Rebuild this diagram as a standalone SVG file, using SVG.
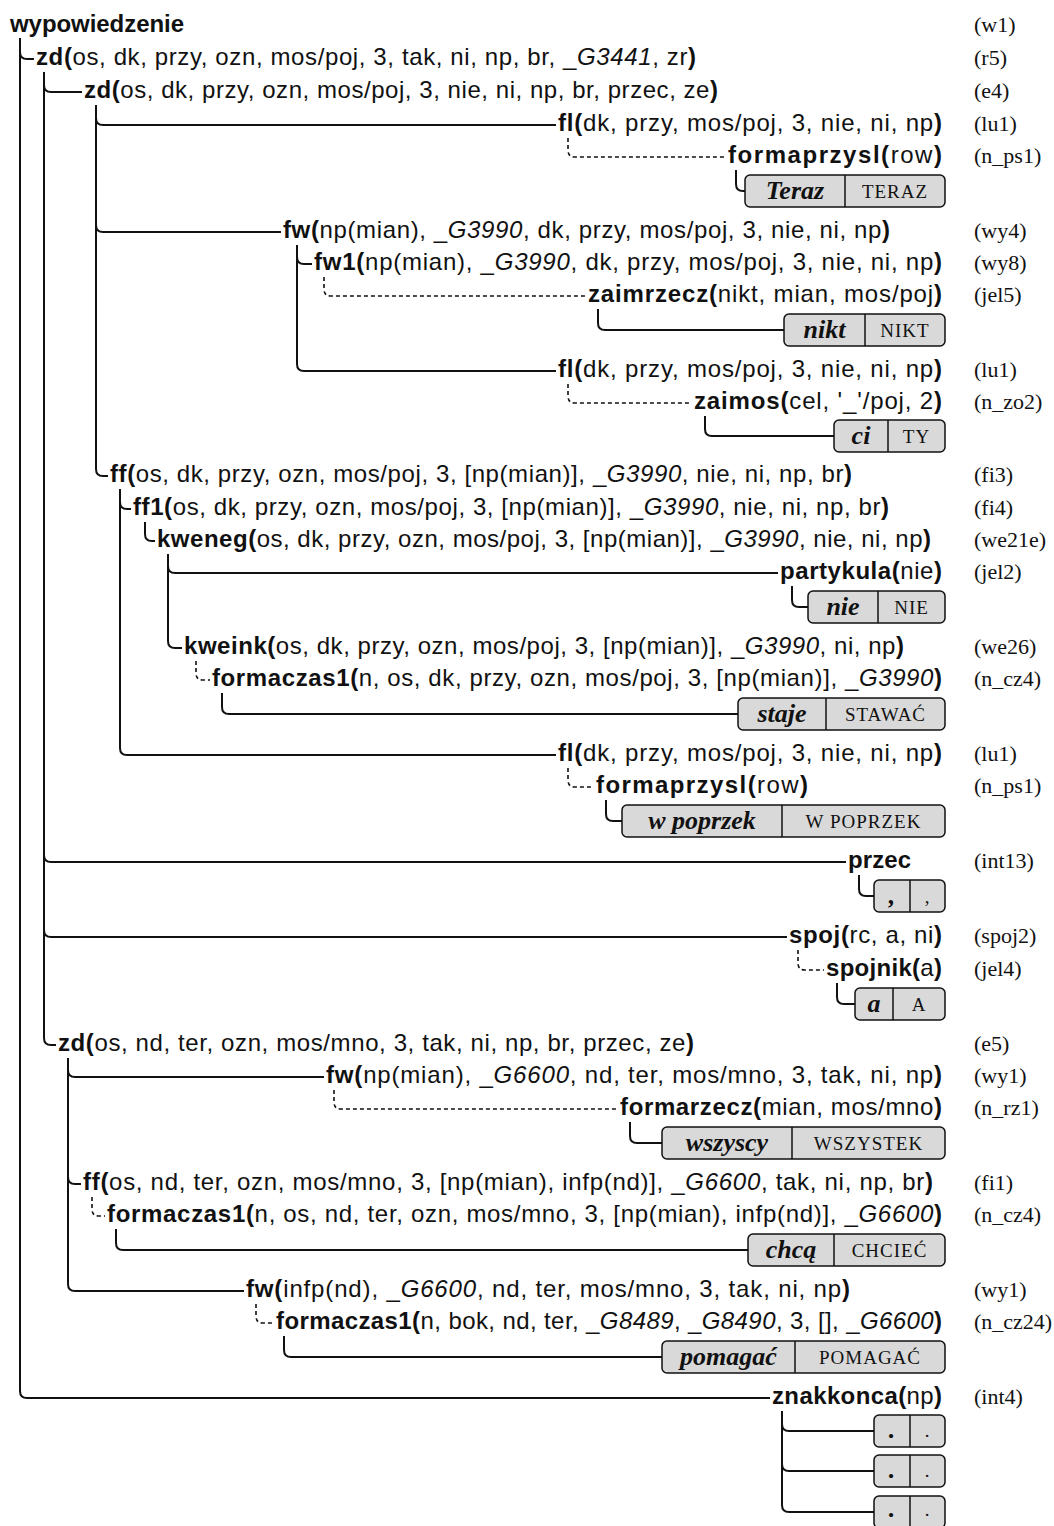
<svg xmlns="http://www.w3.org/2000/svg" width="1054" height="1526" viewBox="0 0 1054 1526">
<style>
.lb{font-family:"Liberation Sans",Arial,sans-serif;font-size:24px;fill:#111}
.b{font-weight:bold}
.i{font-style:italic}
.tg{font-family:"Liberation Serif","Times New Roman",serif;font-size:22px;fill:#111}
.bw{font-family:"Liberation Serif","Times New Roman",serif;font-weight:bold;font-style:italic;font-size:26px;text-anchor:middle;fill:#111}
.sc{font-family:"Liberation Serif","Times New Roman",serif;font-size:19px;letter-spacing:1px;text-anchor:middle;fill:#111}
.ln{fill:none;stroke:#111;stroke-width:2}
.ds{fill:none;stroke:#111;stroke-width:1.6;stroke-dasharray:4 3}
.bx{fill:#d9d9d9;stroke:#111;stroke-width:1.5}
.dv{stroke:#111;stroke-width:1.5}
</style>
<rect width="1054" height="1526" fill="#fff"/>
<g id="connectors">
<path class="ln" d="M20 38 V1391 Q20 1398 27 1398 H770"/>
<path class="ln" d="M20 52 Q20 59 27 59 H34"/>
<path class="ln" d="M44 72 V1038 Q44 1045 51 1045 H56"/>
<path class="ln" d="M44 85 Q44 92 51 92 H82"/>
<path class="ln" d="M44 855 Q44 862 51 862 H846"/>
<path class="ln" d="M44 930 Q44 937 51 937 H787"/>
<path class="ln" d="M96 105 V469 Q96 476 103 476 H108"/>
<path class="ln" d="M96 118 Q96 125 103 125 H556"/>
<path class="ln" d="M96 225 Q96 232 103 232 H281"/>
<path class="ds" d="M568 138 V150 Q568 157 575 157 H726"/>
<path class="ln" d="M736 170 V184 Q736 191 743 191 H745"/>
<path class="ln" d="M297 245 V364 Q297 371 304 371 H556"/>
<path class="ln" d="M297 257 Q297 264 304 264 H312"/>
<path class="ds" d="M324 277 V289 Q324 296 331 296 H586"/>
<path class="ln" d="M598 309 V323 Q598 330 605 330 H784"/>
<path class="ds" d="M568 384 V396 Q568 403 575 403 H692"/>
<path class="ln" d="M705 416 V429 Q705 436 712 436 H834"/>
<path class="ln" d="M120 489 V748 Q120 755 127 755 H556"/>
<path class="ln" d="M120 502 Q120 509 127 509 H131"/>
<path class="ln" d="M145 522 V534 Q145 541 152 541 H155"/>
<path class="ln" d="M168 554 V641 Q168 648 175 648 H182"/>
<path class="ln" d="M168 566 Q168 573 175 573 H778"/>
<path class="ln" d="M792 586 V600 Q792 607 799 607 H808"/>
<path class="ds" d="M196 661 V673 Q196 680 203 680 H210"/>
<path class="ln" d="M222 693 V707 Q222 714 229 714 H738"/>
<path class="ds" d="M568 768 V780 Q568 787 575 787 H594"/>
<path class="ln" d="M606 800 V814 Q606 821 613 821 H622"/>
<path class="ln" d="M859 875 V889 Q859 896 866 896 H874"/>
<path class="ds" d="M798 950 V963 Q798 970 805 970 H824"/>
<path class="ln" d="M837 983 V997 Q837 1004 844 1004 H855"/>
<path class="ln" d="M68 1058 V1284 Q68 1291 75 1291 H244"/>
<path class="ln" d="M68 1070 Q68 1077 75 1077 H324"/>
<path class="ln" d="M68 1177 Q68 1184 75 1184 H81"/>
<path class="ds" d="M334 1090 V1102 Q334 1109 341 1109 H618"/>
<path class="ln" d="M630 1122 V1136 Q630 1143 637 1143 H662"/>
<path class="ds" d="M92 1197 V1209 Q92 1216 99 1216 H105"/>
<path class="ln" d="M116 1229 V1243 Q116 1250 123 1250 H748"/>
<path class="ds" d="M256 1304 V1316 Q256 1323 263 1323 H274"/>
<path class="ln" d="M284 1336 V1350 Q284 1357 291 1357 H662"/>
<path class="ln" d="M782 1411 V1505 Q782 1512 789 1512 H874"/>
<path class="ln" d="M782 1424 Q782 1431 789 1431 H874"/>
<path class="ln" d="M782 1464 Q782 1471 789 1471 H874"/>
</g>
<g id="n_w1"><text class="lb b" x="10" y="32" textLength="174">wypowiedzenie</text><text class="tg" x="974" y="32">(w1)</text></g>
<g id="n_r5"><text class="lb" x="36" y="65" textLength="660"><tspan class="b">zd(</tspan>os, dk, przy, ozn, mos/poj, 3, tak, ni, np, br, _<tspan class="i">G3441</tspan>, zr<tspan class="b">)</tspan></text><text class="tg" x="974" y="65">(r5)</text></g>
<g id="n_e4"><text class="lb" x="84" y="98" textLength="634"><tspan class="b">zd(</tspan>os, dk, przy, ozn, mos/poj, 3, nie, ni, np, br, przec, ze<tspan class="b">)</tspan></text><text class="tg" x="974" y="98">(e4)</text></g>
<g id="n_lu1a"><text class="lb" x="558" y="131" textLength="384"><tspan class="b">fl(</tspan>dk, przy, mos/poj, 3, nie, ni, np<tspan class="b">)</tspan></text><text class="tg" x="974" y="131">(lu1)</text></g>
<g id="n_ps1a"><text class="lb" x="728" y="163" textLength="214"><tspan class="b">formaprzysl(</tspan>row<tspan class="b">)</tspan></text><text class="tg" x="974" y="163">(n_ps1)</text></g>
<g id="t_teraz"><rect class="bx" x="745" y="175" width="200" height="32" rx="5"/><line class="dv" x1="845" y1="175" x2="845" y2="207"/><text class="bw" x="795" y="199">Teraz</text><text class="sc" x="895" y="198">TERAZ</text></g>
<g id="n_wy4"><text class="lb" x="283" y="238" textLength="607"><tspan class="b">fw(</tspan>np(mian), _<tspan class="i">G3990</tspan>, dk, przy, mos/poj, 3, nie, ni, np<tspan class="b">)</tspan></text><text class="tg" x="974" y="238">(wy4)</text></g>
<g id="n_wy8"><text class="lb" x="314" y="270" textLength="628"><tspan class="b">fw1(</tspan>np(mian), _<tspan class="i">G3990</tspan>, dk, przy, mos/poj, 3, nie, ni, np<tspan class="b">)</tspan></text><text class="tg" x="974" y="270">(wy8)</text></g>
<g id="n_jel5"><text class="lb" x="588" y="302" textLength="354"><tspan class="b">zaimrzecz(</tspan>nikt, mian, mos/poj<tspan class="b">)</tspan></text><text class="tg" x="974" y="302">(jel5)</text></g>
<g id="t_nikt"><rect class="bx" x="784" y="314" width="161" height="32" rx="5"/><line class="dv" x1="865" y1="314" x2="865" y2="346"/><text class="bw" x="824.5" y="338">nikt</text><text class="sc" x="905" y="337">NIKT</text></g>
<g id="n_lu1b"><text class="lb" x="558" y="377" textLength="384"><tspan class="b">fl(</tspan>dk, przy, mos/poj, 3, nie, ni, np<tspan class="b">)</tspan></text><text class="tg" x="974" y="377">(lu1)</text></g>
<g id="n_zo2"><text class="lb" x="694" y="409" textLength="248"><tspan class="b">zaimos(</tspan>cel, '_'/poj, 2<tspan class="b">)</tspan></text><text class="tg" x="974" y="409">(n_zo2)</text></g>
<g id="t_ci"><rect class="bx" x="834" y="420" width="111" height="32" rx="5"/><line class="dv" x1="888" y1="420" x2="888" y2="452"/><text class="bw" x="861" y="444">ci</text><text class="sc" x="916.5" y="443">TY</text></g>
<g id="n_fi3"><text class="lb" x="110" y="482" textLength="742"><tspan class="b">ff(</tspan>os, dk, przy, ozn, mos/poj, 3, [np(mian)], _<tspan class="i">G3990</tspan>, nie, ni, np, br<tspan class="b">)</tspan></text><text class="tg" x="974" y="482">(fi3)</text></g>
<g id="n_fi4"><text class="lb" x="133" y="515" textLength="756"><tspan class="b">ff1(</tspan>os, dk, przy, ozn, mos/poj, 3, [np(mian)], _<tspan class="i">G3990</tspan>, nie, ni, np, br<tspan class="b">)</tspan></text><text class="tg" x="974" y="515">(fi4)</text></g>
<g id="n_we21e"><text class="lb" x="157" y="547" textLength="774"><tspan class="b">kweneg(</tspan>os, dk, przy, ozn, mos/poj, 3, [np(mian)], _<tspan class="i">G3990</tspan>, nie, ni, np<tspan class="b">)</tspan></text><text class="tg" x="974" y="547">(we21e)</text></g>
<g id="n_jel2"><text class="lb" x="780" y="579" textLength="162"><tspan class="b">partykula(</tspan>nie<tspan class="b">)</tspan></text><text class="tg" x="974" y="579">(jel2)</text></g>
<g id="t_nie"><rect class="bx" x="808" y="591" width="137" height="32" rx="5"/><line class="dv" x1="878" y1="591" x2="878" y2="623"/><text class="bw" x="843" y="615">nie</text><text class="sc" x="911.5" y="614">NIE</text></g>
<g id="n_we26"><text class="lb" x="184" y="654" textLength="720"><tspan class="b">kweink(</tspan>os, dk, przy, ozn, mos/poj, 3, [np(mian)], _<tspan class="i">G3990</tspan>, ni, np<tspan class="b">)</tspan></text><text class="tg" x="974" y="654">(we26)</text></g>
<g id="n_cz4a"><text class="lb" x="212" y="686" textLength="730"><tspan class="b">formaczas1(</tspan>n, os, dk, przy, ozn, mos/poj, 3, [np(mian)], _<tspan class="i">G3990</tspan><tspan class="b">)</tspan></text><text class="tg" x="974" y="686">(n_cz4)</text></g>
<g id="t_staje"><rect class="bx" x="738" y="698" width="207" height="32" rx="5"/><line class="dv" x1="826" y1="698" x2="826" y2="730"/><text class="bw" x="782" y="722">staje</text><text class="sc" x="885.5" y="721">STAWAĆ</text></g>
<g id="n_lu1c"><text class="lb" x="558" y="761" textLength="384"><tspan class="b">fl(</tspan>dk, przy, mos/poj, 3, nie, ni, np<tspan class="b">)</tspan></text><text class="tg" x="974" y="761">(lu1)</text></g>
<g id="n_ps1b"><text class="lb" x="596" y="793" textLength="212"><tspan class="b">formaprzysl(</tspan>row<tspan class="b">)</tspan></text><text class="tg" x="974" y="793">(n_ps1)</text></g>
<g id="t_wpoprzek"><rect class="bx" x="622" y="805" width="323" height="32" rx="5"/><line class="dv" x1="782" y1="805" x2="782" y2="837"/><text class="bw" x="702" y="829">w poprzek</text><text class="sc" x="863.5" y="828">W POPRZEK</text></g>
<g id="n_int13"><text class="lb b" x="848" y="868" textLength="63">przec</text><text class="tg" x="974" y="868">(int13)</text></g>
<g id="t_comma"><rect class="bx" x="874" y="880" width="71" height="32" rx="5"/><line class="dv" x1="910" y1="880" x2="910" y2="912"/><text class="bw" x="892" y="904">,</text><text class="sc" x="927.5" y="903">,</text></g>
<g id="n_spoj2"><text class="lb" x="789" y="943" textLength="153"><tspan class="b">spoj(</tspan>rc, a, ni<tspan class="b">)</tspan></text><text class="tg" x="974" y="943">(spoj2)</text></g>
<g id="n_jel4"><text class="lb" x="826" y="976" textLength="116"><tspan class="b">spojnik(</tspan>a<tspan class="b">)</tspan></text><text class="tg" x="974" y="976">(jel4)</text></g>
<g id="t_a"><rect class="bx" x="855" y="988" width="90" height="32" rx="5"/><line class="dv" x1="893" y1="988" x2="893" y2="1020"/><text class="bw" x="874" y="1012">a</text><text class="sc" x="919" y="1011">A</text></g>
<g id="n_e5"><text class="lb" x="58" y="1051" textLength="636"><tspan class="b">zd(</tspan>os, nd, ter, ozn, mos/mno, 3, tak, ni, np, br, przec, ze<tspan class="b">)</tspan></text><text class="tg" x="974" y="1051">(e5)</text></g>
<g id="n_wy1a"><text class="lb" x="326" y="1083" textLength="616"><tspan class="b">fw(</tspan>np(mian), _<tspan class="i">G6600</tspan>, nd, ter, mos/mno, 3, tak, ni, np<tspan class="b">)</tspan></text><text class="tg" x="974" y="1083">(wy1)</text></g>
<g id="n_rz1"><text class="lb" x="620" y="1115" textLength="322"><tspan class="b">formarzecz(</tspan>mian, mos/mno<tspan class="b">)</tspan></text><text class="tg" x="974" y="1115">(n_rz1)</text></g>
<g id="t_wszyscy"><rect class="bx" x="662" y="1127" width="283" height="32" rx="5"/><line class="dv" x1="792" y1="1127" x2="792" y2="1159"/><text class="bw" x="727" y="1151">wszyscy</text><text class="sc" x="868.5" y="1150">WSZYSTEK</text></g>
<g id="n_fi1"><text class="lb" x="83" y="1190" textLength="850"><tspan class="b">ff(</tspan>os, nd, ter, ozn, mos/mno, 3, [np(mian), infp(nd)], _<tspan class="i">G6600</tspan>, tak, ni, np, br<tspan class="b">)</tspan></text><text class="tg" x="974" y="1190">(fi1)</text></g>
<g id="n_cz4b"><text class="lb" x="107" y="1222" textLength="835"><tspan class="b">formaczas1(</tspan>n, os, nd, ter, ozn, mos/mno, 3, [np(mian), infp(nd)], _<tspan class="i">G6600</tspan><tspan class="b">)</tspan></text><text class="tg" x="974" y="1222">(n_cz4)</text></g>
<g id="t_chca"><rect class="bx" x="748" y="1234" width="197" height="32" rx="5"/><line class="dv" x1="834" y1="1234" x2="834" y2="1266"/><text class="bw" x="791" y="1258">chcą</text><text class="sc" x="889.5" y="1257">CHCIEĆ</text></g>
<g id="n_wy1b"><text class="lb" x="246" y="1297" textLength="604"><tspan class="b">fw(</tspan>infp(nd), _<tspan class="i">G6600</tspan>, nd, ter, mos/mno, 3, tak, ni, np<tspan class="b">)</tspan></text><text class="tg" x="974" y="1297">(wy1)</text></g>
<g id="n_cz24"><text class="lb" x="276" y="1329" textLength="666"><tspan class="b">formaczas1(</tspan>n, bok, nd, ter, _<tspan class="i">G8489</tspan>, _<tspan class="i">G8490</tspan>, 3, [], _<tspan class="i">G6600</tspan><tspan class="b">)</tspan></text><text class="tg" x="974" y="1329">(n_cz24)</text></g>
<g id="t_pomagac"><rect class="bx" x="662" y="1341" width="283" height="32" rx="5"/><line class="dv" x1="795" y1="1341" x2="795" y2="1373"/><text class="bw" x="728.5" y="1365">pomagać</text><text class="sc" x="870" y="1364">POMAGAĆ</text></g>
<g id="n_int4"><text class="lb" x="772" y="1404" textLength="170"><tspan class="b">znakkonca(</tspan>np<tspan class="b">)</tspan></text><text class="tg" x="974" y="1404">(int4)</text></g>
<g id="t_dot1"><rect class="bx" x="874" y="1415" width="71" height="32" rx="5"/><line class="dv" x1="910" y1="1415" x2="910" y2="1447"/><text class="bw" x="892" y="1438">.</text><text class="sc" x="927.5" y="1437">.</text></g>
<g id="t_dot2"><rect class="bx" x="874" y="1455" width="71" height="32" rx="5"/><line class="dv" x1="910" y1="1455" x2="910" y2="1487"/><text class="bw" x="892" y="1478">.</text><text class="sc" x="927.5" y="1477">.</text></g>
<g id="t_dot3"><rect class="bx" x="874" y="1496" width="71" height="32" rx="5"/><line class="dv" x1="910" y1="1496" x2="910" y2="1528"/><text class="bw" x="892" y="1517">.</text><text class="sc" x="927.5" y="1516">.</text></g>
</svg>
